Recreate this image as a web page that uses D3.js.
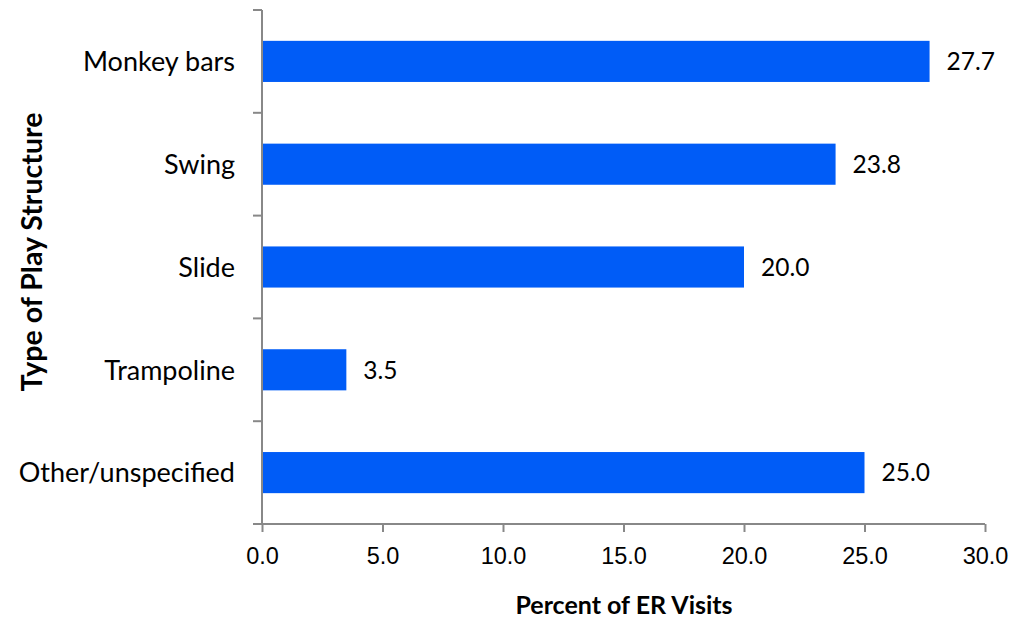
<!DOCTYPE html>
<meta charset="utf-8">
<style>
body {
    margin: 0;
    background: #fff;
    font-family: "Lato", "Open Sans", sans-serif;
}
.axis path, .axis line {
    stroke: #888;
    stroke-width: 2px;
}
.axis text {
    fill: #000;
}
.bar {
    fill: #005cf7;
}
.value {
    font-size: 24.5px;
}
.title {
    font-weight: bold;
}
</style>
<body>
<script src="https://d3js.org/d3.v7.min.js"></script>
<script>
    var width = 1012,
        height = 620;
    var categories = ["Monkey bars", "Swing", "Slide", "Trampoline", "Other/unspecified"];
    var values = [27.7, 23.8, 20.0, 3.5, 25.0];
    var xTicks = [0, 5, 10, 15, 20, 25, 30];

    var svg = d3.select("body").append("svg")
        .attr("width", width)
        .attr("height", height);

    var x = d3.scaleLinear()
        .domain([0, 30])
        .range([262, 985]);
    var y = d3.scaleBand()
        .domain(categories)
        .range([10, 524])
        .paddingInner(0.6)
        .paddingOuter(0.3);

    // bars
    svg.selectAll(".bar")
        .data(values)
        .enter()
        .append("rect")
        .attr("class", "bar")
        .attr("x", x(0))
        .attr("y", function(d, i) { return y(categories[i]); })
        .attr("width", function(d) { return x(d) - x(0); })
        .attr("height", y.bandwidth());

    svg.selectAll(".value")
        .data(values)
        .enter()
        .append("text")
        .attr("class", "value")
        .attr("x", function(d) { return x(d) + 17; })
        .attr("y", function(d, i) { return y(categories[i]) + y.bandwidth() / 2; })
        .attr("dy", "0.36em")
        .text(function(d) { return d.toFixed(1); });

    // x axis
    var xAxis = svg.append("g")
        .attr("class", "axis")
        .attr("transform", "translate(0,524)")
        .call(d3.axisBottom(x).tickValues(xTicks).tickSize(8).tickSizeOuter(0)
            .tickFormat(d3.format(".1f")));
    xAxis.select(".domain").attr("d", "M253,0H985");
    xAxis.selectAll("text").attr("font-size", "23.5px").attr("y", 40).attr("dy", 0);

    // y axis, ticks sit between the categories
    var bounds = categories.map(function(c) { return y(c) - y.step() * y.paddingInner() / 2; });
    bounds.push(524);
    var yAxis = svg.append("g")
        .attr("class", "axis")
        .attr("transform", "translate(262,0)");
    yAxis.append("line")
        .attr("y1", 10).attr("y2", 524);
    yAxis.selectAll(".tick")
        .data(bounds)
        .enter()
        .append("line")
        .attr("x1", -9).attr("x2", 0)
        .attr("y1", function(d) { return d; })
        .attr("y2", function(d) { return d; });
    yAxis.selectAll(".cat")
        .data(categories)
        .enter()
        .append("text")
        .attr("x", -27)
        .attr("y", function(d) { return y(d) + y.bandwidth() / 2; })
        .attr("dy", "0.36em")
        .attr("text-anchor", "end")
        .attr("font-size", "27px")
        .text(function(d) { return d; });

    svg.append("text")
        .attr("class", "title")
        .attr("x", 624)
        .attr("y", 614)
        .attr("text-anchor", "middle")
        .attr("font-size", "25px")
        .text("Percent of ER Visits");

    svg.append("text")
        .attr("class", "title")
        .attr("transform", "translate(42,252) rotate(-90)")
        .attr("text-anchor", "middle")
        .attr("font-size", "28.5px")
        .text("Type of Play Structure");
</script>
